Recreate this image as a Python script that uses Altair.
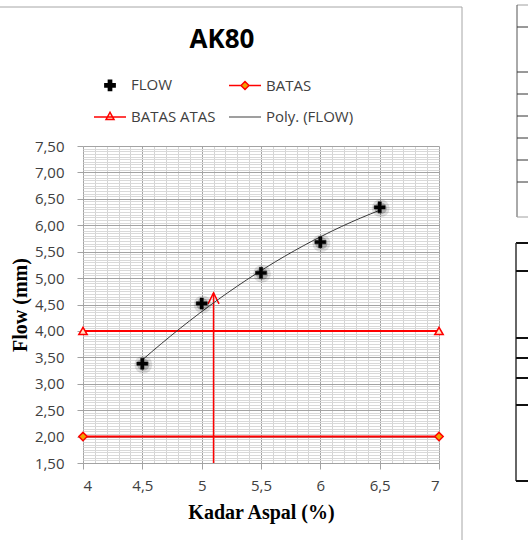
import altair as alt
import pandas as pd

# Marshall test: flow against asphalt content
kadar_aspal = [4.5, 5.0, 5.5, 6.0, 6.5]
flow = [3.38, 4.52, 5.10, 5.68, 6.34]

# specification limits
batas_x = [4.0, 7.0]
batas_y = [2.0, 2.0]
batas_atas_x = [4.0, 7.0]
batas_atas_y = [4.0, 4.0]

# optimum asphalt content indicator
optimum_x = [5.1, 5.1]
optimum_y = [1.5, 4.72]

# legend order (legend fills column by column)
series_names = ["FLOW", "BATAS ATAS", "BATAS", "Poly. (FLOW)"]
chart_title = "AK80"

# axis ticks and gridlines
x_major = [4.0, 4.5, 5.0, 5.5, 6.0, 6.5, 7.0]
y_major = [1.5, 2.0, 2.5, 3.0, 3.5, 4.0, 4.5, 5.0, 5.5, 6.0, 6.5, 7.0, 7.5]
x_minor = [round(4 + 0.1 * i, 2) for i in range(31) if i % 5]
y_minor = [round(1.5 + 0.05 * i, 2) for i in range(121) if i % 10]

RED = "#ff0000"
LABEL_FONT = "Open Sans"
TITLE_FONT = "Liberation Serif"

# page layout in pixels
PAGE_W, PAGE_H = 528, 542
PLOT_LEFT, PLOT_TOP, PLOT_W, PLOT_H = 83, 146, 356, 317
TITLE_CX, TITLE_CY = 222, 40

flow_df = pd.DataFrame({"kadar": kadar_aspal, "flow": flow})
batas_df = pd.DataFrame({"kadar": batas_x, "flow": batas_y})
atas_df = pd.DataFrame({"kadar": batas_atas_x, "flow": batas_atas_y})
opt_df = pd.DataFrame({"kadar": [optimum_x[0]], "lo": [optimum_y[0]], "hi": [optimum_y[1]]})
legend_df = pd.DataFrame({"series": series_names})

xs = alt.Scale(domain=[4, 7], nice=False, zero=False)
ys = alt.Scale(domain=[1.5, 7.5], nice=False, zero=False)

def X(field, **kw):
    return alt.X(field, type="quantitative", scale=xs, **kw)

def Y(field, **kw):
    return alt.Y(field, type="quantitative", scale=ys, **kw)

# major gridlines, ticks, labels and axis titles
major = alt.Chart(flow_df).mark_point(opacity=0).encode(
    x=X("kadar", axis=alt.Axis(
        values=x_major, grid=True, gridColor="#a3a3a3", gridWidth=1,
        domain=False, ticks=True, tickSize=6, tickColor="#a3a3a3",
        labelExpr="replace(format(datum.value, '~g'), '.', ',')",
        labelFont=LABEL_FONT, labelFontSize=15, labelColor="#404040", labelPadding=9,
        title="Kadar Aspal (%)", titleFont=TITLE_FONT, titleFontSize=20,
        titleFontWeight="bold", titleColor="#000000", titlePadding=9,
        orient="bottom")),
    y=Y("flow", axis=alt.Axis(
        values=y_major, grid=True, gridColor="#a3a3a3", gridWidth=1,
        domain=False, ticks=True, tickSize=6, tickColor="#a3a3a3",
        labelExpr="replace(format(datum.value, '.2f'), '.', ',')",
        labelFont=LABEL_FONT, labelFontSize=15, labelColor="#404040", labelPadding=13,
        title="Flow (mm)", titleFont=TITLE_FONT, titleFontSize=20,
        titleFontWeight="bold", titleColor="#000000", titlePadding=4,
        orient="left")),
)

# minor gridlines
minor = alt.Chart(flow_df).mark_point(opacity=0).encode(
    x=X("kadar", axis=alt.Axis(values=x_minor, grid=True, gridColor="#d4d4d4",
                               labels=False, ticks=False, domain=False, title=None, orient="top")),
    y=Y("flow", axis=alt.Axis(values=y_minor, grid=True, gridColor="#d9d9d9",
                              labels=False, ticks=False, domain=False, title=None, orient="right")),
)

no_axis = dict(axis=None)

batas_line = alt.Chart(batas_df).mark_line(color=RED, strokeWidth=2).encode(
    x=X("kadar", **no_axis), y=Y("flow", **no_axis))
batas_pts = alt.Chart(batas_df).mark_point(
    shape="diamond", filled=True, fill="#f0a202", stroke=RED, strokeWidth=1.5,
    size=70, opacity=1).encode(x=X("kadar", **no_axis), y=Y("flow", **no_axis))

atas_line = alt.Chart(atas_df).mark_line(color=RED, strokeWidth=2).encode(
    x=X("kadar", **no_axis), y=Y("flow", **no_axis))
atas_pts = alt.Chart(atas_df).mark_point(
    shape="triangle-up", filled=True, fill="#ffe3c4", stroke=RED, strokeWidth=1.5,
    size=70, opacity=1).encode(x=X("kadar", **no_axis), y=Y("flow", **no_axis))

opt_rule = alt.Chart(opt_df).mark_rule(color=RED, strokeWidth=1.5).encode(
    x=X("kadar", **no_axis), y=Y("lo", **no_axis), y2="hi")
opt_head = alt.Chart(opt_df).mark_point(
    shape="M-1,2L0,0L1,2", filled=False, stroke=RED, strokeWidth=1.5,
    size=121, opacity=1).encode(x=X("kadar", **no_axis), y=Y("hi", **no_axis))

trend = alt.Chart(flow_df).transform_regression(
    "kadar", "flow", method="poly", order=2
).mark_line(color="#3a3a3a", strokeWidth=1).encode(
    x=X("kadar", **no_axis), y=Y("flow", **no_axis))

# soft shadow under the flow markers
halo_outer = alt.Chart(flow_df).mark_circle(
    color="#000000", opacity=0.12, size=320, xOffset=1, yOffset=1).encode(
    x=X("kadar", **no_axis), y=Y("flow", **no_axis))
halo_inner = alt.Chart(flow_df).mark_circle(
    color="#000000", opacity=0.22, size=150, xOffset=1, yOffset=1).encode(
    x=X("kadar", **no_axis), y=Y("flow", **no_axis))

PLUS = "M-1,-0.3H-0.3V-1H0.3V-0.3H1V0.3H0.3V1H-0.3V0.3H-1Z"
flow_pts = alt.Chart(flow_df).mark_point(
    shape=PLUS, filled=True, fill="#000000", stroke="#000000", strokeWidth=0.5,
    size=121, opacity=1).encode(x=X("kadar", **no_axis), y=Y("flow", **no_axis))

# legend entries (markers fall outside the clipped plot, only the legend shows)
legend_shapes = {
    "FLOW": "M-0.32,-0.1H-0.1V-0.32H0.1V-0.1H0.32V0.1H0.1V0.32H-0.1V0.1H-0.32Z",
    "BATAS": "M-1,0H-0.25M0.25,0H1M-0.25,0L0,-0.25L0.25,0L0,0.25Z",
    "BATAS ATAS": "M-1,0H1M-0.25,0.16L0,-0.3L0.25,0.16Z",
    "Poly. (FLOW)": "M-1,0H1",
}
legend_fills = {"FLOW": "#000000", "BATAS": "#f0a202",
                "BATAS ATAS": "#ffe3c4", "Poly. (FLOW)": "transparent"}
legend_strokes = {"FLOW": "#000000", "BATAS": RED,
                  "BATAS ATAS": RED, "Poly. (FLOW)": "#7f7f7f"}
lg = alt.Legend(title=None)
legend_layer = alt.Chart(legend_df).mark_point(filled=True, opacity=1, clip=True).encode(
    x=alt.X(datum=3.0, type="quantitative", scale=xs, axis=None),
    y=alt.Y(datum=1.0, type="quantitative", scale=ys, axis=None),
    shape=alt.Shape("series:N", scale=alt.Scale(
        domain=series_names, range=[legend_shapes[s] for s in series_names]), legend=lg),
    fill=alt.Fill("series:N", scale=alt.Scale(
        domain=series_names, range=[legend_fills[s] for s in series_names]), legend=lg),
    stroke=alt.Stroke("series:N", scale=alt.Scale(
        domain=series_names, range=[legend_strokes[s] for s in series_names]), legend=lg),
)

# chart title, centred over the chart frame
title = alt.Chart(pd.DataFrame({"t": [chart_title]})).mark_text(
    font=LABEL_FONT, fontSize=26, fontWeight="bold", color="#000000",
    align="center", baseline="middle",
).encode(text="t:N", x=alt.value(TITLE_CX - PLOT_LEFT), y=alt.value(TITLE_CY - PLOT_TOP))

# chart frame and the neighbouring table outlines on the page (page pixels)
frame_segments = pd.DataFrame([
    # x1, y1, x2, y2, colour, width
    (0, 7, 462, 7, "#a6a6a6", 1),
    (462, 7, 462, 540, "#a6a6a6", 1),
    (517, 5, 528, 5, "#a0a0a0", 1),
    (517, 5, 517, 217, "#555555", 1),
    (517, 27, 528, 27, "#333333", 1),
    (517, 72, 528, 72, "#333333", 1),
    (517, 94, 528, 94, "#333333", 1),
    (517, 116, 528, 116, "#333333", 1),
    (517, 138, 528, 138, "#333333", 1),
    (517, 160, 528, 160, "#333333", 1),
    (517, 182, 528, 182, "#333333", 1),
    (517, 217, 528, 217, "#a0a0a0", 1),
    (516, 243, 528, 243, "#111111", 2),
    (516, 243, 516, 481, "#333333", 1.5),
    (516, 271, 528, 271, "#111111", 2),
    (516, 338, 528, 338, "#111111", 2),
    (516, 358, 528, 358, "#111111", 2),
    (516, 378, 528, 378, "#111111", 2),
    (516, 405, 528, 405, "#111111", 2),
    (516, 481, 528, 481, "#111111", 2),
], columns=["x1", "y1", "x2", "y2", "col", "w"])
frame_segments[["x1", "x2"]] -= PLOT_LEFT
frame_segments[["y1", "y2"]] -= PLOT_TOP

frame = alt.Chart(frame_segments).mark_rule().encode(
    x=alt.X("x1:Q", scale=None, axis=None), x2="x2:Q",
    y=alt.Y("y1:Q", scale=None, axis=None), y2="y2:Q",
    color=alt.Color("col:N", scale=None, legend=None),
    strokeWidth=alt.StrokeWidth("w:Q", scale=None, legend=None),
)

chart = alt.layer(
    major, minor, batas_line, atas_line, opt_rule, opt_head, trend,
    batas_pts, atas_pts, halo_outer, halo_inner, flow_pts, legend_layer, title, frame,
).resolve_axis(x="independent", y="independent").properties(
    width=PLOT_W, height=PLOT_H,
    autosize=alt.AutoSizeParams(type="none"),
    padding={"left": PLOT_LEFT, "top": PLOT_TOP,
             "right": PAGE_W - PLOT_LEFT - PLOT_W, "bottom": PAGE_H - PLOT_TOP - PLOT_H},
    background="#ffffff",
).configure_view(stroke=None).configure_legend(
    orient="none", legendX=10, legendY=-78, columns=2, symbolSize=1024,
    rowPadding=6, columnPadding=10, labelOffset=4, labelFont=LABEL_FONT,
    labelFontSize=15, labelColor="#404040", padding=0, symbolStrokeWidth=1.5,
    labelLimit=0,
)

chart.save("out.html", embed_options={"renderer": "svg", "actions": False})
